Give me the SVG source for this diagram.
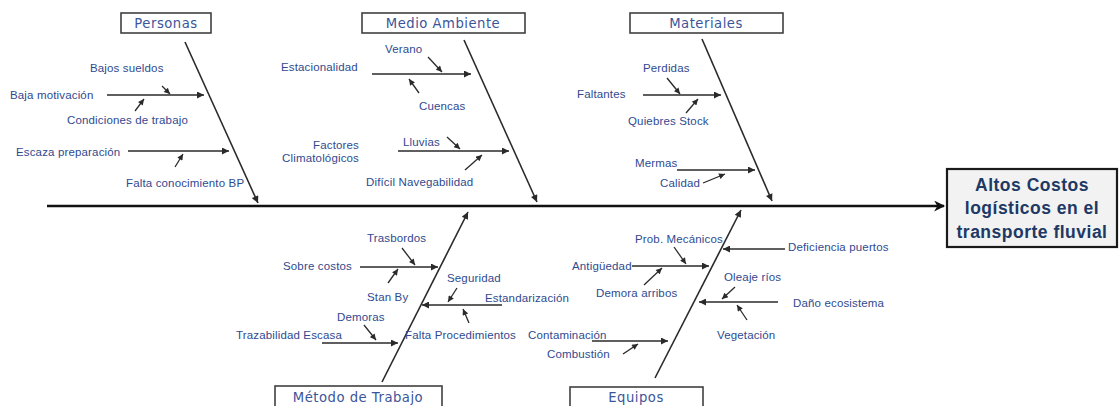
<svg xmlns="http://www.w3.org/2000/svg" width="1119" height="406" viewBox="0 0 1119 406">
<style>
.bg{fill:#ffffff}
.hbox{fill:#ffffff;stroke:#404040;stroke-width:1.6}
.htxt{font-family:"DejaVu Sans",sans-serif;font-size:13.2px;fill:#3b559a;text-anchor:middle;letter-spacing:0.5px}
.lbl{font-family:"Liberation Sans",Arial,sans-serif;font-size:11.5px;fill:#2f4a8f;letter-spacing:0.15px}
.r{text-anchor:end}
.bone{stroke:#2a2a2a;stroke-width:1.6;fill:none}
.sub{stroke:#2a2a2a;stroke-width:1.4;fill:none}
.tiny{stroke:#2a2a2a;stroke-width:1.3;fill:none}
.spine{stroke:#111111;stroke-width:2.6;fill:none}
.ebox{fill:#f2f2f2;stroke:#1a1a1a;stroke-width:2.2}
.etxt{font-family:"Liberation Sans",Arial,sans-serif;font-weight:bold;font-size:17.5px;fill:#203864;text-anchor:middle;letter-spacing:0.5px}
</style>
<defs>
<marker id="a1" viewBox="0 0 10 10" refX="10" refY="5" markerWidth="9" markerHeight="7" markerUnits="userSpaceOnUse" orient="auto"><path d="M0,0 L10,5 L0,10 z" fill="#2a2a2a"/></marker>
<marker id="a2" viewBox="0 0 10 10" refX="10" refY="5" markerWidth="7" markerHeight="6" markerUnits="userSpaceOnUse" orient="auto"><path d="M0,0 L10,5 L0,10 z" fill="#2a2a2a"/></marker>
<marker id="a3" viewBox="0 0 10 10" refX="9" refY="5" markerWidth="12" markerHeight="11" markerUnits="userSpaceOnUse" orient="auto"><path d="M0,0 L10,5 L0,10 L3,5 z" fill="#111111"/></marker>
</defs>
<rect class="bg" x="0" y="0" width="1119" height="406"/>

<g id="connectors">
<line class="spine" x1="47" y1="206" x2="944" y2="206" marker-end="url(#a3)"/>
<!-- main bones -->
<line class="bone" x1="185" y1="42" x2="258" y2="203" marker-end="url(#a1)"/>
<line class="bone" x1="464" y1="40" x2="537" y2="202" marker-end="url(#a1)"/>
<line class="bone" x1="702" y1="39" x2="772" y2="201" marker-end="url(#a1)"/>
<line class="bone" x1="382" y1="382" x2="468" y2="212" marker-end="url(#a1)"/>
<line class="bone" x1="655" y1="378" x2="741" y2="210" marker-end="url(#a1)"/>
<!-- Personas -->
<line class="sub" x1="107" y1="95" x2="204" y2="95" marker-end="url(#a1)"/>
<line class="tiny" x1="162" y1="86" x2="170" y2="94" marker-end="url(#a2)"/>
<line class="tiny" x1="135" y1="111" x2="144" y2="99" marker-end="url(#a2)"/>
<line class="sub" x1="128" y1="151" x2="229" y2="151" marker-end="url(#a1)"/>
<line class="tiny" x1="175" y1="167" x2="183" y2="154" marker-end="url(#a2)"/>
<!-- Medio Ambiente -->
<line class="sub" x1="372" y1="74" x2="471" y2="74" marker-end="url(#a1)"/>
<line class="tiny" x1="428" y1="57" x2="442" y2="72" marker-end="url(#a2)"/>
<line class="tiny" x1="419" y1="93" x2="409" y2="79" marker-end="url(#a2)"/>
<line class="sub" x1="398" y1="151" x2="509" y2="151" marker-end="url(#a1)"/>
<line class="tiny" x1="447" y1="137" x2="460" y2="149" marker-end="url(#a2)"/>
<line class="tiny" x1="465" y1="170" x2="482" y2="155" marker-end="url(#a2)"/>
<!-- Materiales -->
<line class="sub" x1="643" y1="95" x2="721" y2="95" marker-end="url(#a1)"/>
<line class="tiny" x1="667" y1="78" x2="680" y2="94" marker-end="url(#a2)"/>
<line class="tiny" x1="686" y1="113" x2="698" y2="99" marker-end="url(#a2)"/>
<line class="sub" x1="677" y1="170" x2="755" y2="170" marker-end="url(#a1)"/>
<line class="tiny" x1="703" y1="183" x2="725" y2="174" marker-end="url(#a2)"/>
<!-- Metodo de Trabajo -->
<line class="sub" x1="360" y1="267" x2="438" y2="267" marker-end="url(#a1)"/>
<line class="tiny" x1="402" y1="248" x2="415" y2="265" marker-end="url(#a2)"/>
<line class="tiny" x1="388" y1="283" x2="398" y2="269" marker-end="url(#a2)"/>
<line class="sub" x1="502" y1="305" x2="422" y2="305" marker-end="url(#a1)"/>
<line class="tiny" x1="457" y1="288" x2="448" y2="302" marker-end="url(#a2)"/>
<line class="tiny" x1="469" y1="323" x2="463" y2="309" marker-end="url(#a2)"/>
<line class="sub" x1="322" y1="343" x2="398" y2="343" marker-end="url(#a1)"/>
<line class="tiny" x1="364" y1="325" x2="376" y2="340" marker-end="url(#a2)"/>
<!-- Equipos -->
<line class="sub" x1="785" y1="249" x2="723" y2="249" marker-end="url(#a1)"/>
<line class="sub" x1="632" y1="266" x2="709" y2="266" marker-end="url(#a1)"/>
<line class="tiny" x1="674" y1="247" x2="686" y2="264" marker-end="url(#a2)"/>
<line class="tiny" x1="644" y1="285" x2="662" y2="268" marker-end="url(#a2)"/>
<line class="sub" x1="778" y1="302" x2="699" y2="302" marker-end="url(#a1)"/>
<line class="tiny" x1="735" y1="287" x2="722" y2="299" marker-end="url(#a2)"/>
<line class="tiny" x1="747" y1="320" x2="737" y2="305" marker-end="url(#a2)"/>
<line class="sub" x1="592" y1="341" x2="668" y2="341" marker-end="url(#a1)"/>
<line class="tiny" x1="623" y1="354" x2="638" y2="344" marker-end="url(#a2)"/>
</g>

<g id="personas">
<rect class="hbox" x="121" y="13" width="90" height="20"/>
<text class="htxt" x="166" y="28">Personas</text>
<text class="lbl" x="90" y="72">Bajos sueldos</text>
<text class="lbl" x="10" y="99">Baja motivación</text>
<text class="lbl" x="67" y="124">Condiciones de trabajo</text>
<text class="lbl" x="16" y="156">Escaza preparación</text>
<text class="lbl" x="126" y="187">Falta conocimiento BP</text>
</g>

<g id="medio-ambiente">
<rect class="hbox" x="362" y="13" width="163" height="20"/>
<text class="htxt" x="443" y="28">Medio Ambiente</text>
<text class="lbl" x="385" y="53">Verano</text>
<text class="lbl" x="281" y="71">Estacionalidad</text>
<text class="lbl" x="419" y="110">Cuencas</text>
<text class="lbl r" x="359" y="149">Factores</text>
<text class="lbl r" x="359" y="162">Climatológicos</text>
<text class="lbl" x="403" y="146">Lluvias</text>
<text class="lbl" x="366" y="186">Difícil Navegabilidad</text>
</g>

<g id="materiales">
<rect class="hbox" x="630" y="13" width="153" height="20"/>
<text class="htxt" x="706" y="28">Materiales</text>
<text class="lbl" x="643" y="72">Perdidas</text>
<text class="lbl" x="577" y="98">Faltantes</text>
<text class="lbl" x="628" y="125">Quiebres Stock</text>
<text class="lbl" x="635" y="167">Mermas</text>
<text class="lbl" x="660" y="187">Calidad</text>
</g>

<g id="metodo-de-trabajo">
<rect class="hbox" x="275" y="386" width="167" height="22"/>
<text class="htxt" x="358" y="402">Método de Trabajo</text>
<text class="lbl" x="367" y="242">Trasbordos</text>
<text class="lbl" x="283" y="270">Sobre costos</text>
<text class="lbl" x="367" y="301">Stan By</text>
<text class="lbl" x="447" y="282">Seguridad</text>
<text class="lbl" x="485" y="302">Estandarización</text>
<text class="lbl" x="337" y="321">Demoras</text>
<text class="lbl" x="236" y="339">Trazabilidad Escasa</text>
<text class="lbl" x="405" y="339">Falta Procedimientos</text>
</g>

<g id="equipos">
<rect class="hbox" x="570" y="387" width="133" height="21"/>
<text class="htxt" x="636" y="402">Equipos</text>
<text class="lbl" x="635" y="243">Prob. Mecánicos</text>
<text class="lbl" x="788" y="251">Deficiencia puertos</text>
<text class="lbl" x="572" y="270">Antigüedad</text>
<text class="lbl" x="596" y="297">Demora arribos</text>
<text class="lbl" x="724" y="281">Oleaje ríos</text>
<text class="lbl" x="793" y="307">Daño ecosistema</text>
<text class="lbl" x="717" y="339">Vegetación</text>
<text class="lbl" x="528" y="339">Contaminación</text>
<text class="lbl" x="547" y="358">Combustión</text>
</g>

<g id="efecto">
<rect class="ebox" x="947" y="169" width="170" height="78"/>
<text class="etxt" x="1032" y="191">Altos Costos</text>
<text class="etxt" x="1032" y="214">logísticos en el</text>
<text class="etxt" x="1032" y="238">transporte fluvial</text>
</g>
</svg>
